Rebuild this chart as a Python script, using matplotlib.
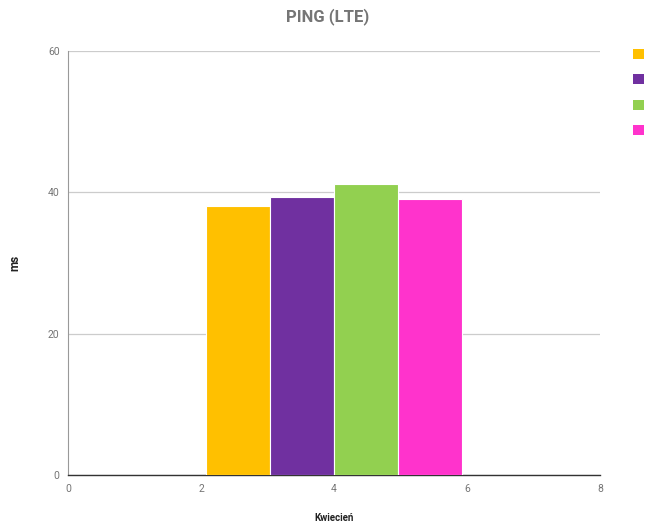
import matplotlib
matplotlib.use("Agg")
import matplotlib.pyplot as plt
from matplotlib.patches import Patch

plt.rcParams['font.family'] = ['Roboto', 'DejaVu Sans']

positions = [2.56, 3.52, 4.48, 5.44]
values = [38.1, 39.3, 41.2, 39.05]
colors = ['#ffc000', '#7030a0', '#92d050', '#ff33cc']
series_labels = ['', '', '', '']
xticks = [0, 2, 4, 6, 8]
yticks = [0, 20, 40, 60]

fig = plt.figure(figsize=(6.55, 5.29), dpi=100)
ax = fig.add_axes([0.1038, 0.102, 0.8122, 0.8016])

ax.bar(positions, values, width=0.962, color=colors, edgecolor='white', linewidth=0.8, zorder=3)

ax.set_xlim(0, 8)
ax.set_ylim(0, 60)
ax.set_xticks(xticks)
ax.set_yticks(yticks)
ax.yaxis.grid(True, color='#cccccc', linewidth=0.9, zorder=0)
ax.tick_params(axis='both', length=0, labelsize=7.5, labelcolor='#757575')
ax.tick_params(axis='x', pad=6.5)
ax.tick_params(axis='y', pad=6)
for s in ['top', 'right']:
    ax.spines[s].set_visible(False)
ax.spines['left'].set_color('#999999')
ax.spines['left'].set_linewidth(0.8)
ax.spines['bottom'].set_color('#333333')
ax.spines['bottom'].set_linewidth(1.0)

fig.suptitle('PING (LTE)', x=0.5, y=0.984, fontsize=12, fontweight='bold', color='#757575')
ax.set_ylabel('ms', fontsize=8.5, fontweight='bold', color='#222222')
ax.yaxis.set_label_coords(-0.088, 0.5)
ax.set_xlabel('Kwiecień', fontsize=7, fontweight='bold', color='#222222')
ax.xaxis.set_label_coords(0.5, -0.089)

handles = [Patch(facecolor=c, edgecolor='none') for c in colors]
fig.legend(handles, series_labels, loc='upper left', bbox_to_anchor=(0.951, 0.926),
           frameon=False, handlelength=1.0, handleheight=1.0, handletextpad=0,
           labelspacing=1.3, fontsize=8)

fig.savefig('out.png', dpi=100)
